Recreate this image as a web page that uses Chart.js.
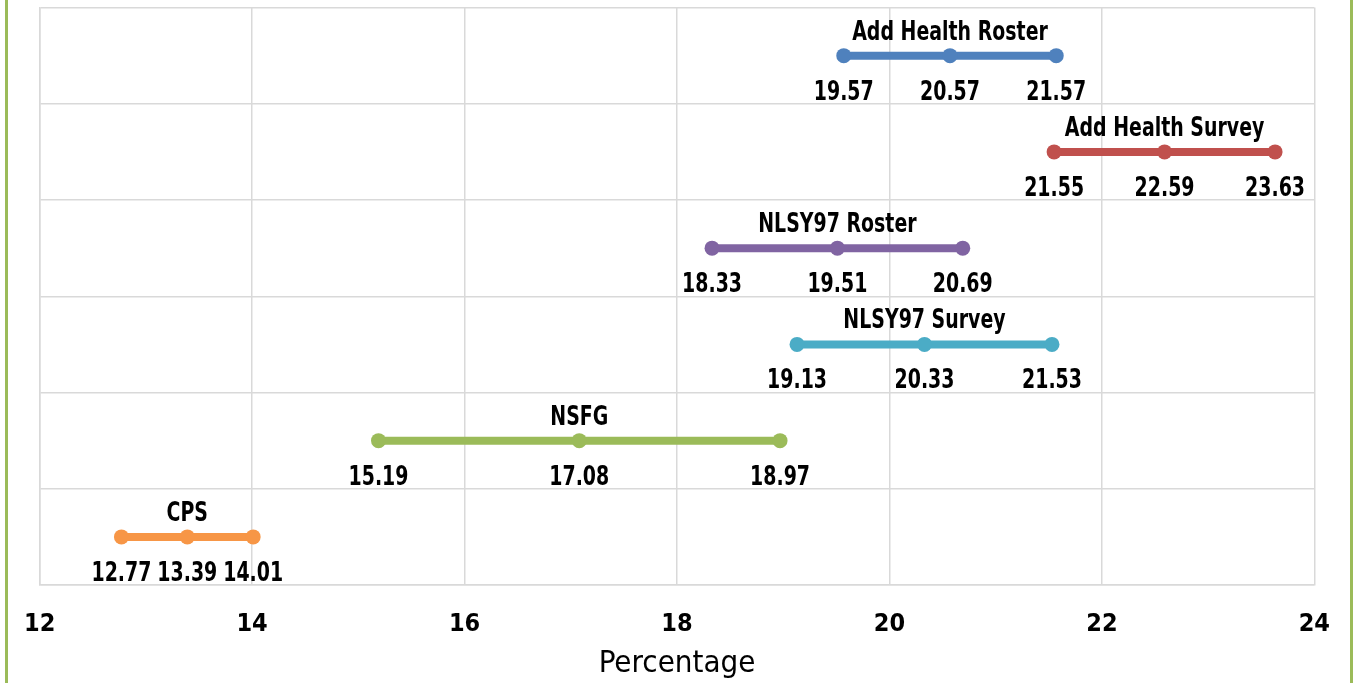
<!DOCTYPE html>
<html>
<head>
<meta charset="utf-8">
<script src="https://cdn.jsdelivr.net/npm/chart.js@4/dist/chart.umd.min.js"></script>
<style>
  html, body { margin: 0; padding: 0; background: #ffffff; }
  #wrap { position: absolute; left: 0; top: 0; width: 1354px; height: 683px; }
  .gline { position: absolute; top: 0; width: 3px; height: 683px; background: #9BBB59; }
</style>
</head>
<body>
<div id="wrap"><canvas id="c"></canvas></div>
<div class="gline" style="left:5px"></div>
<div class="gline" style="left:1350px"></div>
<script>
const categories = ['Add Health Roster', 'Add Health Survey', 'NLSY97 Roster', 'NLSY97 Survey', 'NSFG', 'CPS'];
const lowValues  = [19.57, 21.55, 18.33, 19.13, 15.19, 12.77];
const midValues  = [20.57, 22.59, 19.51, 20.33, 17.08, 13.39];
const highValues = [21.57, 23.63, 20.69, 21.53, 18.97, 14.01];
const seriesColors = ['#4F81BD', '#C0504D', '#8064A2', '#4BACC6', '#9BBB59', '#F79646'];
const xTickMin = 12, xTickMax = 24, xTickStep = 2;
const axisTitle = 'Percentage';

const FONT = "'Liberation Sans Narrow', 'DejaVu Sans Condensed', 'Roboto Condensed', sans-serif";
const SQUEEZE = 0.81;

const datasets = categories.map((cat, i) => ({
  label: cat,
  data: [
    { x: lowValues[i], y: cat },
    { x: midValues[i], y: cat },
    { x: highValues[i], y: cat }
  ],
  borderColor: seriesColors[i],
  backgroundColor: seriesColors[i],
  pointBackgroundColor: seriesColors[i],
  pointBorderColor: seriesColors[i],
  borderWidth: 8,
  pointRadius: 7.5,
  pointBorderWidth: 0,
  pointHoverRadius: 7.5,
  fill: false,
  tension: 0
}));

function squeezedText(ctx, text, x, y) {
  ctx.save();
  ctx.translate(x, y);
  ctx.scale(SQUEEZE, 1);
  ctx.fillText(text, 0, 0);
  ctx.restore();
}

const labelPlugin = {
  id: 'rangeLabels',
  afterDatasetsDraw(chart) {
    const ctx = chart.ctx;
    ctx.save();
    ctx.fillStyle = '#000000';
    ctx.textAlign = 'center';
    ctx.textBaseline = 'alphabetic';
    ctx.font = "bold 26px " + FONT;
    chart.data.datasets.forEach((ds, i) => {
      const pts = chart.getDatasetMeta(i).data;
      squeezedText(ctx, ds.label, pts[1].x, pts[1].y - 16);
      const vals = [lowValues[i], midValues[i], highValues[i]];
      pts.forEach((p, k) => {
        squeezedText(ctx, vals[k].toFixed(2), p.x, p.y + 44);
      });
    });
    ctx.restore();
  }
};

new Chart(document.getElementById('c'), {
  type: 'line',
  data: { datasets },
  plugins: [labelPlugin],
  options: {
    responsive: true,
    maintainAspectRatio: false,
    animation: false,
    events: [],
    layout: { padding: { left: 0, right: 35, top: 3, bottom: 0 } },
    plugins: { legend: { display: false }, tooltip: { enabled: false } },
    scales: {
      x: {
        type: 'linear',
        min: xTickMin,
        max: xTickMax,
        ticks: {
          stepSize: xTickStep,
          color: '#000000',
          padding: 24,
          font: { family: FONT, size: 25, weight: 'bold' }
        },
        grid: { color: '#D9D9D9', lineWidth: 1.5, drawTicks: false },
        border: { color: '#D9D9D9', width: 1.5 },
        title: {
          display: true,
          text: axisTitle,
          color: '#000000',
          font: { family: FONT, size: 31, weight: '500', lineHeight: 1.2 },
          padding: { top: 0, bottom: 0 }
        },
        afterFit(scale) { scale.height = 98; }
      },
      y: {
        type: 'category',
        labels: categories,
        offset: true,
        ticks: { display: false },
        grid: { color: '#D9D9D9', lineWidth: 1.5, drawTicks: false, offset: true },
        border: { color: '#D9D9D9', width: 1.5 },
        afterFit(scale) { scale.width = 35; }
      }
    }
  }
});
</script>
</body>
</html>
